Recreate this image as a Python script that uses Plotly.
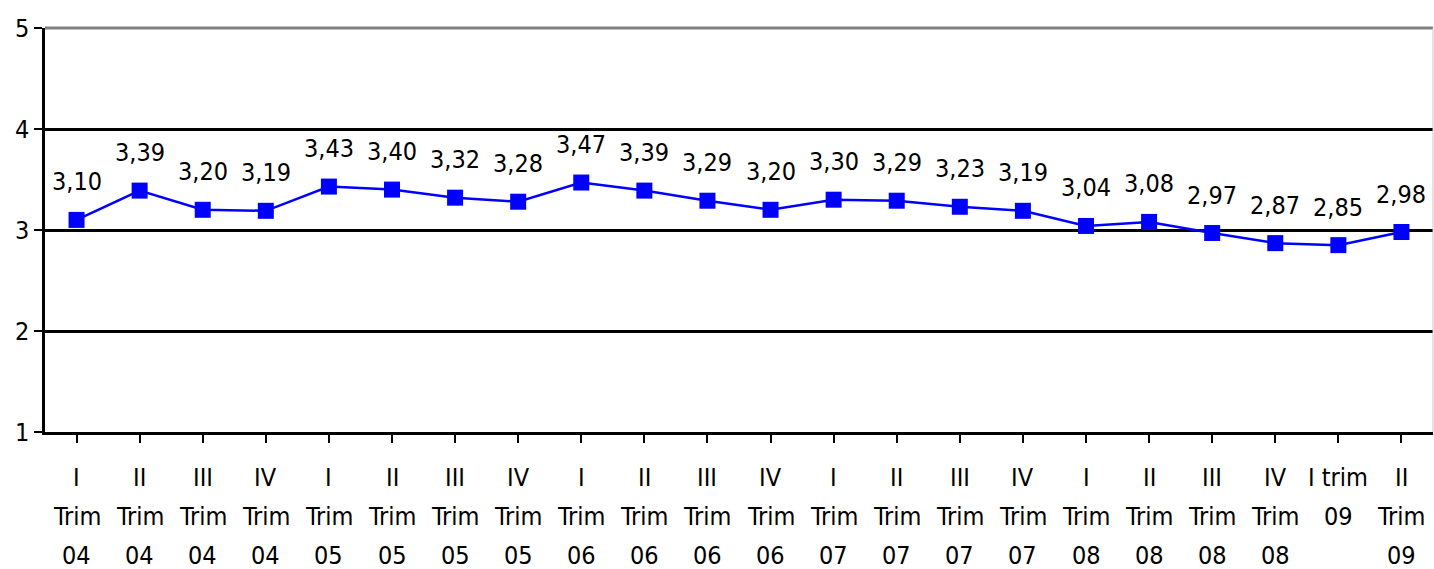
import plotly.graph_objects as go

roman = ["I", "II", "III", "IV"] * 5 + ["I trim", "II"]
mid = ["Trim"] * 20 + ["09", "Trim"]
years = ["04"] * 4 + ["05"] * 4 + ["06"] * 4 + ["07"] * 4 + ["08"] * 4 + ["", "09"]
values = [3.10, 3.39, 3.20, 3.19, 3.43, 3.40, 3.32, 3.28, 3.47, 3.39, 3.29,
          3.20, 3.30, 3.29, 3.23, 3.19, 3.04, 3.08, 2.97, 2.87, 2.85, 2.98]
labels = [f"{v:.2f}".replace(".", ",") for v in values]
cats = list(range(len(values)))

FONT = "DejaVu Sans Condensed, DejaVu Sans, sans-serif"


def fnt(size):
    return dict(size=size, color="black", family=FONT)


fig = go.Figure()
fig.add_trace(go.Scatter(
    x=cats, y=values, mode="lines+markers",
    line=dict(color="#0000FF", width=2.5),
    marker=dict(symbol="square", size=16, color="#0000FF"),
    hoverinfo="skip", showlegend=False,
))

annotations = []
for c, v, t in zip(cats, values, labels):
    annotations.append(dict(x=c, y=v, text=t, showarrow=False, yshift=38,
                            font=fnt(25)))
for c, a, b, d in zip(cats, roman, mid, years):
    for txt, ys in ((a, -45), (b, -84), (d, -123)):
        if txt:
            annotations.append(dict(x=c, y=0, xref="x", yref="paper", text=txt,
                                    showarrow=False, yshift=ys, yanchor="middle",
                                    height=24, font=fnt(25)))

fig.update_layout(
    width=1434, height=569,
    margin=dict(l=45, r=1, t=28, b=137),
    paper_bgcolor="white", plot_bgcolor="white",
    font=fnt(25),
    annotations=annotations,
    shapes=[
        dict(type="line", xref="paper", yref="paper", x0=0, x1=1, y0=1, y1=1,
             line=dict(color="#808080", width=3)),
        dict(type="line", xref="paper", yref="paper", x0=1, x1=1, y0=0, y1=1,
             line=dict(color="#c8c8c8", width=1)),
    ],
    xaxis=dict(
        range=[-0.5, len(values) - 0.5], tickmode="array", tickvals=cats,
        ticktext=[""] * len(cats), tickson="boundaries", ticks="outside",
        ticklen=8, tickwidth=2, tickcolor="black", automargin=False,
        showline=True, linecolor="black", linewidth=2.5, showgrid=False,
        zeroline=False, fixedrange=True,
    ),
    yaxis=dict(
        range=[1, 5], tickvals=[1, 2, 3, 4, 5], ticks="outside", ticklen=8,
        tickwidth=2, tickcolor="black", showline=True, linecolor="black",
        linewidth=2.5, showgrid=True, gridcolor="black", gridwidth=2.5,
        zeroline=False, tickfont=fnt(25), fixedrange=True, automargin=False,
    ),
)

fig.write_html("out.html", config={"displayModeBar": False},
               post_script="document.body.style.margin='0';")
